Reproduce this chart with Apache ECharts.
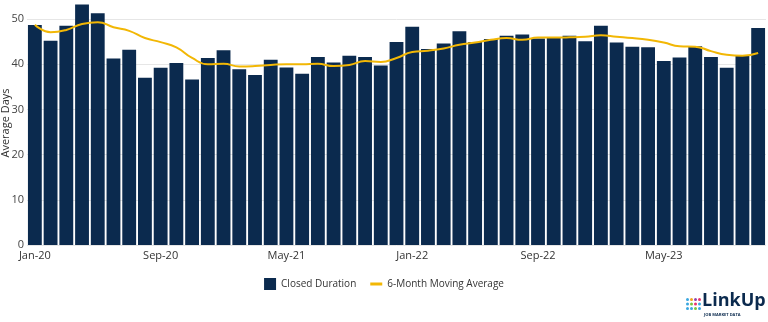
<!DOCTYPE html>
<html><head><meta charset="utf-8">
<script src="https://cdn.jsdelivr.net/npm/echarts@6/dist/echarts.min.js"></script>
<style>html,body{margin:0;padding:0;background:#fff}#c{width:768px;height:322px}</style>
</head><body><div id="c"></div>
<script>
const months = ['Jan-20','Feb-20','Mar-20','Apr-20','May-20','Jun-20','Jul-20','Aug-20','Sep-20','Oct-20','Nov-20','Dec-20',
'Jan-21','Feb-21','Mar-21','Apr-21','May-21','Jun-21','Jul-21','Aug-21','Sep-21','Oct-21','Nov-21','Dec-21',
'Jan-22','Feb-22','Mar-22','Apr-22','May-22','Jun-22','Jul-22','Aug-22','Sep-22','Oct-22','Nov-22','Dec-22',
'Jan-23','Feb-23','Mar-23','Apr-23','May-23','Jun-23','Jul-23','Aug-23','Sep-23','Oct-23','Nov-23'];
const closedDuration = [48.7,45.2,48.5,53.2,51.3,41.3,43.2,37.0,39.2,40.3,36.6,41.4,
43.1,38.9,37.6,41.0,39.3,37.9,41.6,40.4,41.9,41.6,39.7,44.9,
48.3,43.4,44.6,47.3,44.9,45.6,46.3,46.6,45.7,45.8,46.3,45.1,
48.5,44.8,43.9,43.75,40.7,41.5,44.0,41.6,39.2,41.9,48.0];
const movingAverage = [48.75,47.1,47.6,48.9,49.3,48.2,47.4,45.8,44.9,43.75,41.4,40.0,
40.1,39.5,39.6,39.85,40.0,40.0,40.1,39.6,39.85,40.7,40.5,41.4,
42.7,43.0,43.5,44.3,44.8,45.4,45.8,45.4,45.9,45.9,45.96,46.1,
46.4,46.1,45.8,45.4,44.8,44.0,43.9,42.9,42.1,41.9,42.5];
const yTicks = [0,10,20,30,40,50];

const chart = echarts.init(document.getElementById('c'));
const F = '"Open Sans", sans-serif';
const dotColors = ['#3aa7e0','#f4a21d','#8e44ad','#e8336d',
                   '#3aa7e0','#7cc242','#e8336d','#3aa7e0',
                   '#3aa7e0','#3aa7e0','#7cc242','#3aa7e0'];
const dots = [];
for (let r = 0; r < 3; r++) for (let c = 0; c < 4; c++) {
  dots.push({type:'circle', left: 686 + c*4, top: 298 + r*4.5, shape:{r:1.5}, style:{fill: dotColors[r*4+c]}});
}
chart.setOption({
  animation:false,
  textStyle:{fontFamily:F},
  grid:{left:27, right:2, top:1, bottom:77, outerBoundsMode:'none', containLabel:false},
  legend:{
    bottom:27, left:'center', itemGap:14, itemWidth:12, itemHeight:12,
    textStyle:{fontFamily:F, fontSize:10, color:'#333'},
    data:[{name:'Closed Duration', icon:'rect'},{name:'6-Month Moving Average', icon:'path://M0,0h8v2h-8z'}]
  },
  xAxis:{
    type:'category', data:months, boundaryGap:true,
    axisLine:{show:false}, axisTick:{show:false},
    axisLabel:{interval:7, fontFamily:F, fontSize:11, color:'#333', margin:5}
  },
  yAxis:{
    type:'value', min:0, max:54, interval:10,
    name:'Average Days', nameLocation:'middle', nameGap:16, nameMoveOverlap:false,
    nameTextStyle:{fontFamily:F, fontSize:11, color:'#333'},
    axisLabel:{fontFamily:F, fontSize:11, color:'#444', margin:3, showMaxLabel:false,
      formatter: v => yTicks.indexOf(v) >= 0 ? v : ''},
    splitLine:{lineStyle:{color:'#e6e6e6'}, showMaxLine:false},
    axisLine:{show:false}, axisTick:{show:false}
  },
  series:[
    {name:'Closed Duration', type:'bar', data:closedDuration, barCategoryGap:'12%',
     itemStyle:{color:'#0b2a4e'}},
    {name:'6-Month Moving Average', type:'line', data:movingAverage, smooth:true, symbol:'none',
     lineStyle:{color:'#f2b705', width:2}, itemStyle:{color:'#f2b705'}}
  ],
  graphic:[
    ...dots,
    {type:'text', left:702, top:292, style:{text:'LinkUp', font:'bold 18px "Open Sans", sans-serif', fill:'#0b2a4e'}},
    {type:'text', left:704, top:313, style:{text:'JOB MARKET DATA', font:'bold 4px "Open Sans", sans-serif', fill:'#0b2a4e'}}
  ]
});
</script></body></html>
